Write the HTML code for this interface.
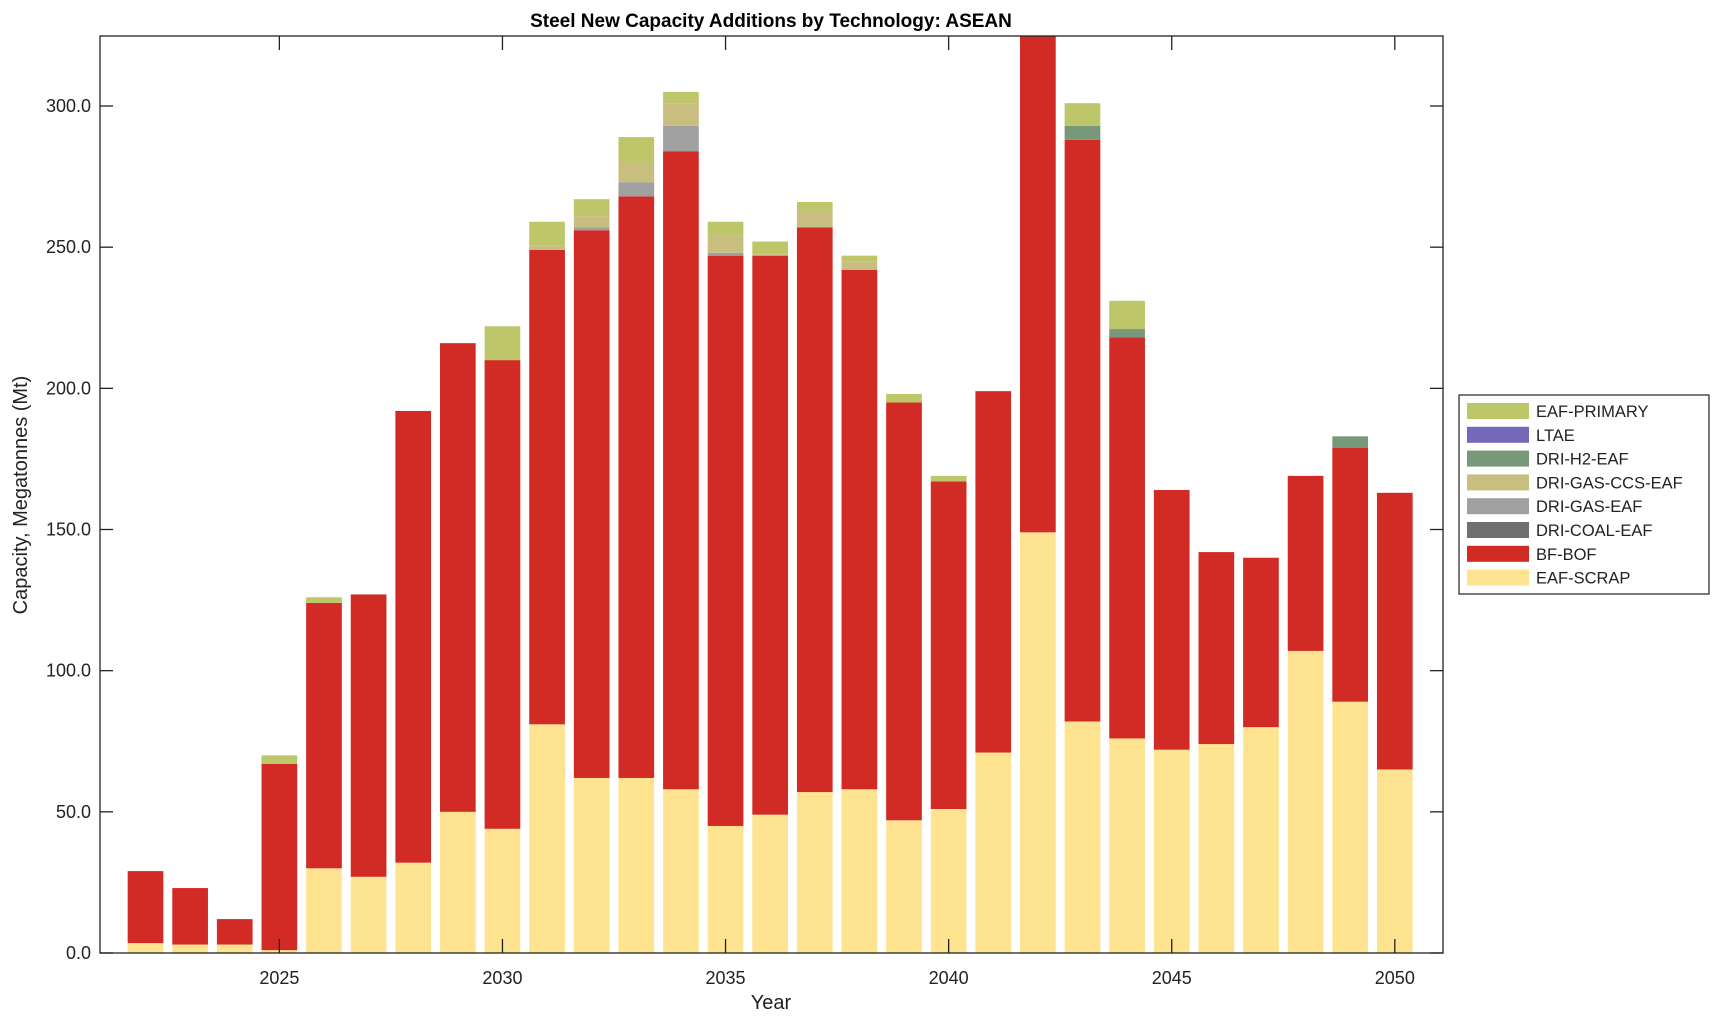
<!DOCTYPE html>
<html><head><meta charset="utf-8"><style>
body{margin:0;background:#fff}
svg text{font-family:"Liberation Sans",Arial,sans-serif;fill:#222}
</style></head><body>
<svg id="chart" width="1720" height="1021" xmlns="http://www.w3.org/2000/svg">
<text x="771" y="27" text-anchor="middle" font-size="19" font-weight="bold" style="fill:#000">Steel New Capacity Additions by Technology: ASEAN</text>
<defs><clipPath id="pc"><rect x="100" y="36" width="1343" height="917"/></clipPath></defs>
<g id="bars" clip-path="url(#pc)"></g>
<g id="axes"></g>
<text x="771" y="1009" text-anchor="middle" font-size="20">Year</text>
<text transform="translate(27,495) rotate(-90)" text-anchor="middle" font-size="20">Capacity, Megatonnes (Mt)</text>
<g id="legend"></g>
</svg>
<script>
const years=[2022,2023,2024,2025,2026,2027,2028,2029,2030,2031,2032,2033,2034,2035,2036,2037,2038,2039,2040,2041,2042,2043,2044,2045,2046,2047,2048,2049,2050];
const eafScrap=[3.5,3,3,1,30,27,32,50,44,81,62,62,58,45,49,57,58,47,51,71,149,82,76,72,74,80,107,89,65];
const bfBof=[25.5,20,9,66,94,100,160,166,166,168,194,206,226,202,198,200,184,148,116,128,181,206,142,92,68,60,62,90,98];
const driCoal=[0,0,0,0,0,0,0,0,0,0,0,0,0,0,0,0,0,0,0,0,0,0,0,0,0,0,0,0,0];
const driGas=[0,0,0,0,0,0,0,0,0,0,1,5,9,1,0,0,0,0,0,0,0,0,0,0,0,0,0,0,0];
const driGasCcs=[0,0,0,0,0,0,0,0,0,1.5,4,7,8,6,0.5,6,3,0,0,0,0,0,0,0,0,0,0,0,0];
const driH2=[0,0,0,0,0,0,0,0,0,0,0,0,0,0,0,0,0,0,0,0,0,5,3,0,0,0,0,4,0];
const ltae=[0,0,0,0,0,0,0,0,0,0,0,0,0,0,0,0,0,0,0,0,0,0,0,0,0,0,0,0,0];
const eafPrimary=[0,0,0,3,2,0,0,0,12,8.5,6,9,4,5,4.5,3,2,3,2,0,0,8,10,0,0,0,0,0,0];
const yTicks=[0,50,100,150,200,250,300];
const xTicks=[2025,2030,2035,2040,2045,2050];
const seriesNames=["EAF-SCRAP","BF-BOF","DRI-COAL-EAF","DRI-GAS-EAF","DRI-GAS-CCS-EAF","DRI-H2-EAF","LTAE","EAF-PRIMARY"];
const seriesColors=["#FEE391","#D22B26","#707070","#A0A0A0","#C8BE80","#77997A","#7469B8","#BEC66A"];
const series=[eafScrap,bfBof,driCoal,driGas,driGasCcs,driH2,ltae,eafPrimary];
const L=100,R=1443,T=36,B=953,XMIN=2020.98,XMAX=2051.08,YMAX=324.8;
const xs=v=>L+(v-XMIN)/(XMAX-XMIN)*(R-L);
const ys=v=>B-v/YMAX*(B-T);
const NS="http://www.w3.org/2000/svg";
function mk(t,a,p){const e=document.createElementNS(NS,t);for(const k in a)e.setAttribute(k,a[k]);p.appendChild(e);return e;}
const bars=document.getElementById('bars');
const bw=(xs(1)-xs(0))*0.8;
years.forEach((yr,i)=>{let base=0;series.forEach((s,j)=>{const v=s[i];if(v<=0)return;
const r=mk('rect',{x:xs(yr)-bw/2,y:ys(base+v),width:bw,height:ys(base)-ys(base+v),fill:seriesColors[j]},bars);


base+=v;});});
const ax=document.getElementById('axes');
const fr=mk('rect',{x:L,y:T,width:R-L,height:B-T,fill:'none',stroke:'#222','stroke-width':1.3},ax);


yTicks.forEach(v=>{const y=ys(v);
mk('line',{x1:L,x2:L+13,y1:y,y2:y,stroke:'#222','stroke-width':1.3},ax);
mk('line',{x1:R,x2:R-13,y1:y,y2:y,stroke:'#222','stroke-width':1.3},ax);
const t=mk('text',{x:L-9,y:y+6,'text-anchor':'end','font-size':18},ax);t.textContent=v.toFixed(1);

});
xTicks.forEach(v=>{const x=xs(v);
mk('line',{x1:x,x2:x,y1:B,y2:B-14,stroke:'#222','stroke-width':1.3},ax);
mk('line',{x1:x,x2:x,y1:T,y2:T+14,stroke:'#222','stroke-width':1.3},ax);
const t=mk('text',{x:x,y:984,'text-anchor':'middle','font-size':18},ax);t.textContent=v;

});
const lg=document.getElementById('legend');
const lb=mk('rect',{x:1459,y:395,width:250,height:199,fill:'#fff',stroke:'#222','stroke-width':1.2},lg);


for(let k=0;k<8;k++){const j=7-k;const y=403+k*23.8;
const sw=mk('rect',{x:1467,y:y,width:62,height:16,fill:seriesColors[j]},lg);


const t=mk('text',{x:1536,y:y+14,'font-size':16.5},lg);t.textContent=seriesNames[j];

}
</script>
</body></html>
